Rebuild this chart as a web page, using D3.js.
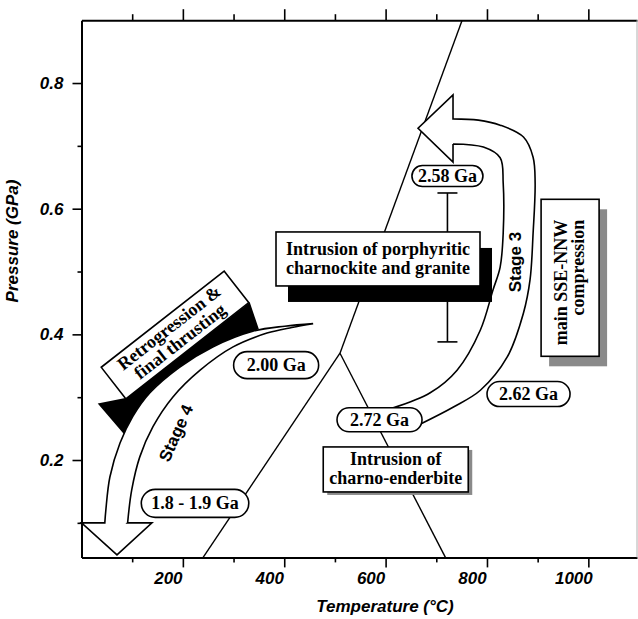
<!DOCTYPE html>
<html><head><meta charset="utf-8">
<script src="https://cdn.jsdelivr.net/npm/d3@7"></script>
<style>body{margin:0;background:#fff}svg{display:block}</style>
</head><body>
<svg id="c" width="638" height="619"></svg>
<script>
// ---------- data (Temperature °C, Pressure GPa) ----------
const xTicksMajor = [200, 400, 600, 800, 1000];
const xTicksMinor = [100, 300, 500, 700, 900];
const yTicksMajor = [0.2, 0.4, 0.6, 0.8];
const yTicksMinor = [0.1, 0.3, 0.5, 0.7];

// Al2SiO5 reaction lines
const kyAnd  = [[240, 0.045], [510, 0.37]];
const kySil  = [[510, 0.37], [751, 0.90]];
const andSil = [[510, 0.37], [718, 0.045]];

// error bar under 2.58 Ga
const errT = 722, errLow = 0.388, errHigh = 0.625;

// Stage 3 arrow outline
const stage3Outer = [[668,0.257],[733,0.284],[787,0.311],[840,0.364],[872,0.434],[885,0.487],[891,0.561],[895,0.641],[891,0.682],[872,0.714],[826,0.733],[783,0.741],[733,0.743]];
const stage3Head  = [[733,0.743],[733,0.781],[664,0.728],[733,0.674],[733,0.703]];
const stage3Inner = [[733,0.703],[793,0.698],[826,0.681],[832,0.641],[832,0.561],[826,0.507],[812,0.471],[787,0.407],[741,0.343],[688,0.307],[615,0.283]];

// Stage 4 arrow outline
const stage4Outer = [[457,0.417],[401,0.413],[338,0.405],[259,0.380],[194,0.348],[135,0.307],[101,0.269],[76,0.227],[56,0.173],[48,0.120],[46,0.100]];
const stage4Head  = [[46,0.100],[0,0.100],[70,0.049],[139,0.100],[91,0.100]];
const stage4Inner = [[91,0.100],[99,0.152],[115,0.205],[141,0.253],[180,0.300],[234,0.343],[299,0.380],[366,0.402],[415,0.411],[457,0.417]];

// black band (retrogression)
const bandStart = [[32,0.290],[84,0.241]];
const bandEdge  = [[84,0.241],[101,0.269],[135,0.307],[194,0.348],[259,0.380],[338,0.405],[350,0.408]];
const bandEnd   = [[332,0.451],[89,0.299]];

// age labels
const ageLabels = ["2.58 Ga", "2.72 Ga", "2.62 Ga", "2.00 Ga", "1.8 - 1.9 Ga"];
const ageT = [722, 588, 882, 384, 224];
const ageP = [0.652, 0.264, 0.305, 0.351, 0.131];

// boxed annotations
const boxPorphText = ["Intrusion of porphyritic", "charnockite and granite"];
const boxPorphAt = [585, 0.520];
const boxCharnoText = ["Intrusion of", "charno-enderbite"];
const boxCharnoAt = [620, 0.185];
const boxComprText = ["main SSE-NNW", "compression"];
const boxComprAt = [964, 0.490];
const boxRetroText = ["Retrogression &", "final thrusting"];
const boxRetroAt = [184.5, 0.399];

const stageLabels = ["Stage 3", "Stage 4"];
const stageT = [856, 186];
const stageP = [0.515, 0.243];

// ---------- layout ----------
const svg = d3.select("#c");
const x = d3.scaleLinear([0, 1096], [81.5, 637]);
const y = d3.scaleLinear([0.045, 0.9], [557.4, 20.2]);
const serif = '"Liberation Serif","Times New Roman",Times,serif';
const sans = '"Liberation Sans",Arial,Helvetica,sans-serif';
const line = d3.line().x(d => x(d[0])).y(d => y(d[1]));
const curve = d3.line().x(d => x(d[0])).y(d => y(d[1])).curve(d3.curveCatmullRom.alpha(0.5));

function styleAxis(g, hideText){
  g.select(".domain").attr("stroke", "#000").attr("stroke-width", 2);
  g.selectAll(".tick line").attr("stroke", "#000").attr("stroke-width", 1.6);
  g.selectAll(".tick text").attr("fill", "#000").attr("font-family", sans)
    .attr("font-weight", "bold").attr("font-style", "italic").attr("font-size", 17);
  if (hideText) g.selectAll(".tick text").remove();
}

// bottom axis
const gB = svg.append("g").attr("transform", `translate(0,${y(0.045)})`)
  .call(d3.axisBottom(x).tickValues(xTicksMajor).tickSize(10).tickSizeOuter(0).tickPadding(5).tickFormat(d3.format("d")));
styleAxis(gB);
gB.selectAll(".tick text").attr("dx", -15);
const gBm = svg.append("g").attr("transform", `translate(0,${y(0.045)})`)
  .call(d3.axisBottom(x).tickValues(xTicksMinor).tickSize(5).tickSizeOuter(0).tickFormat(""));
styleAxis(gBm, true);
gBm.select(".domain").remove();

// top axis
const gT = svg.append("g").attr("transform", `translate(0,${y(0.9)})`)
  .call(d3.axisTop(x).tickValues(xTicksMajor).tickSize(11).tickSizeOuter(0).tickFormat(""));
styleAxis(gT, true);
const gTm = svg.append("g").attr("transform", `translate(0,${y(0.9)})`)
  .call(d3.axisTop(x).tickValues(xTicksMinor).tickSize(6).tickSizeOuter(0).tickFormat(""));
styleAxis(gTm, true);
gTm.select(".domain").remove();

// left axis
const gL = svg.append("g").attr("transform", `translate(${x(0)},0)`)
  .call(d3.axisLeft(y).tickValues(yTicksMajor).tickSize(9).tickSizeOuter(0).tickPadding(9).tickFormat(d3.format(".1f")));
styleAxis(gL);
const gLm = svg.append("g").attr("transform", `translate(${x(0)},0)`)
  .call(d3.axisLeft(y).tickValues(yTicksMinor).tickSize(4).tickSizeOuter(0).tickFormat(""));
styleAxis(gLm, true);
gLm.select(".domain").remove();

// right frame edge
svg.append("line").attr("x1", x(1096)).attr("x2", x(1096)).attr("y1", y(0.9)).attr("y2", y(0.045))
  .attr("stroke", "#b0b0b0").attr("stroke-width", 1);

// axis titles
svg.append("text").attr("x", 385).attr("y", 612).attr("text-anchor", "middle")
  .attr("font-family", sans).attr("font-weight", "bold").attr("font-style", "italic").attr("font-size", 17)
  .text("Temperature (°C)");
svg.append("text").attr("transform", "translate(18,241) rotate(-90)").attr("text-anchor", "middle")
  .attr("font-family", sans).attr("font-weight", "bold").attr("font-style", "italic").attr("font-size", 17)
  .text("Pressure (GPa)");

// reaction lines
[kyAnd, kySil, andSil].forEach(seg => {
  svg.append("path").attr("d", line(seg)).attr("fill", "none").attr("stroke", "#000").attr("stroke-width", 1.4);
});

// error bar
const eg = svg.append("g").attr("stroke", "#000").attr("stroke-width", 1.6);
eg.append("line").attr("x1", x(errT)).attr("x2", x(errT)).attr("y1", y(errLow)).attr("y2", y(errHigh));
[errLow, errHigh].forEach(v => eg.append("line").attr("x1", x(errT) - 10).attr("x2", x(errT) + 10).attr("y1", y(v)).attr("y2", y(v)));

// black band
const bandD = line(bandStart) + curve(bandEdge).replace(/^M/, "L") +
  bandEnd.map(d => `L${x(d[0])},${y(d[1])}`).join("") + "Z";
svg.append("path").attr("d", bandD).attr("fill", "#000");

// arrows
function arrowPath(outer, head, inner){
  return curve(outer) + head.slice(1).map(d => `L${x(d[0])},${y(d[1])}`).join("") +
    curve(inner).replace(/^M/, "L") + "Z";
}
svg.append("path").attr("d", arrowPath(stage3Outer, stage3Head, stage3Inner))
  .attr("fill", "#fff").attr("stroke", "#000").attr("stroke-width", 1.6).attr("stroke-linejoin", "miter");
svg.append("path").attr("d", arrowPath(stage4Outer, stage4Head, stage4Inner))
  .attr("fill", "#fff").attr("stroke", "#000").attr("stroke-width", 1.6).attr("stroke-linejoin", "miter");

// boxes
function box(at, w, h, rot, lines, baselines, textRot, anchor, ax, shadow){
  const cx = x(at[0]), cy = y(at[1]);
  if (shadow) {
    svg.append("rect").attr("x", cx - w/2 + shadow[0]).attr("y", cy - h/2 + shadow[1])
      .attr("width", w).attr("height", h).attr("fill", shadow[2]);
  }
  const g = svg.append("g").attr("transform", `translate(${cx},${cy}) rotate(${rot})`);
  g.append("rect").attr("x", -w/2).attr("y", -h/2).attr("width", w).attr("height", h)
    .attr("fill", "#fff").attr("stroke", "#000").attr("stroke-width", 1.6);
  const tg = svg.append("g").attr("transform", `translate(${cx},${cy}) rotate(${textRot})`);
  lines.forEach((t, i) => {
    tg.append("text").attr("x", ax).attr("y", baselines[i]).attr("text-anchor", anchor)
      .attr("font-family", serif).attr("font-weight", "bold").attr("font-size", 18).attr("fill", "#000").text(t);
  });
}
box(boxPorphAt, 204, 54, 0, boxPorphText, [-4, 15], 0, "middle", 0, [12, 16, "#000"]);
box(boxCharnoAt, 145, 45, 0, boxCharnoText, [-4, 15], 0, "middle", 0, [4, 3, "#8a8a8a"]);
box(boxComprAt, 58, 157, 0, boxComprText, [-3, 14], -90, "end", 58, [8, 10, "#8a8a8a"]);
box(boxRetroAt, 156, 40, -38, boxRetroText, [-3.5, 14], -38, "middle", 0, null);

// age pills
const agePad = [6, 13, 12, 13, 10];
const ageH = [21, 24, 25, 27, 28];
ageLabels.forEach((lab, i) => {
  const g = svg.append("g").attr("transform", `translate(${x(ageT[i])},${y(ageP[i])})`);
  const r = g.append("rect").attr("fill", "#fff").attr("stroke", "#000").attr("stroke-width", 1.6);
  const t = g.append("text").attr("text-anchor", "middle").attr("y", 6)
    .attr("font-family", serif).attr("font-weight", "bold").attr("font-size", 18).attr("fill", "#000").text(lab);
  const tw = t.node().getComputedTextLength();
  const w = tw + 2 * agePad[i], h = ageH[i];
  r.attr("x", -w/2).attr("y", -h/2).attr("width", w).attr("height", h).attr("rx", h/2).attr("ry", h/2);
});

// stage labels
const stageRot = [-90, -66];
stageLabels.forEach((lab, i) => {
  svg.append("text").attr("transform", `translate(${x(stageT[i])},${y(stageP[i])}) rotate(${stageRot[i]})`)
    .attr("text-anchor", "middle").attr("dy", "0.35em")
    .attr("font-family", sans).attr("font-weight", "bold").attr("font-size", 17).attr("fill", "#000").text(lab);
});
</script>
</body></html>
